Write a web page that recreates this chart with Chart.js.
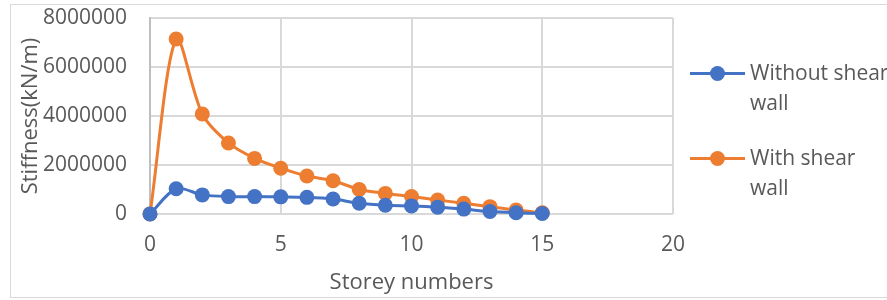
<!DOCTYPE html>
<html>
<head>
<meta charset="utf-8">
<script src="https://cdn.jsdelivr.net/npm/chart.js@4"></script>
<style>
  html, body { margin: 0; padding: 0; background: #fff; }
  #wrap { position: relative; width: 887px; height: 300px; overflow: hidden; font-family: 'Open Sans', sans-serif; }
  #frame { position: absolute; left: 10px; top: 4px; width: 900px; height: 294px; border: 1px solid #d9d9d9; box-sizing: border-box; }
  canvas { position: absolute; left: 0; top: 0; }
  #legend { position: absolute; left: 690px; top: 57px; color: #595959; font-size: 21px; line-height: 30px; white-space: nowrap; }
  .item { position: relative; padding-left: 60px; margin-bottom: 25px; }
  .item .ln { position: absolute; left: 0; top: 15px; width: 55px; height: 3px; }
  .item .dt { position: absolute; left: 20px; top: 9px; width: 15px; height: 15px; border-radius: 50%; }
</style>
</head>
<body>
<div id="wrap">
  <div id="frame"></div>
  <canvas id="chart" width="887" height="300"></canvas>
  <div id="legend"></div>
</div>
<script>
(function () {
  'use strict';

  var storeys = [0, 1, 2, 3, 4, 5, 6, 7, 8, 9, 10, 11, 12, 13, 14, 15];
  var withoutWall = [0, 1030000, 780000, 710000, 710000, 700000, 680000, 610000, 440000, 360000, 330000, 280000, 200000, 100000, 50000, 20000];
  var withWall = [0, 7140000, 4080000, 2900000, 2270000, 1870000, 1550000, 1360000, 1000000, 840000, 710000, 570000, 440000, 300000, 160000, 50000];
  var seriesNames = ['Without shear wall', 'With shear wall'];
  var xTicks = [0, 5, 10, 15, 20];
  var yTicks = [0, 2000000, 4000000, 6000000, 8000000];

  var blue = '#4472c4';
  var orange = '#ed7d31';
  var textGrey = '#595959';
  var gridGrey = '#d9d9d9';

  function points(ys) {
    return storeys.map(function (x, i) { return { x: x, y: ys[i] }; });
  }

  function series(label, ys, color) {
    return {
      label: label,
      data: points(ys),
      showLine: true,
      clip: false,
      borderColor: color,
      backgroundColor: color,
      borderWidth: 3,
      pointRadius: 7.5,
      pointBorderWidth: 0,
      tension: 0.3
    };
  }

  var tickFont = { family: "'Open Sans', sans-serif", size: 21 };
  var titleFont = { family: "'Open Sans', sans-serif", size: 22 };

  new Chart(document.getElementById('chart'), {
    type: 'scatter',
    data: {
      datasets: [
        series(seriesNames[0], withoutWall, blue),
        series(seriesNames[1], withWall, orange)
      ]
    },
    options: {
      responsive: false,
      animation: false,
      layout: { padding: { left: 18, right: 214, top: 18, bottom: 0 } },
      plugins: { legend: { display: false }, tooltip: { enabled: false } },
      scales: {
        x: {
          type: 'linear',
          min: 0,
          max: 20,
          afterBuildTicks: function (s) { s.ticks = xTicks.map(function (v) { return { value: v }; }); },
          afterFit: function (s) { s.height = 86; s.paddingLeft = 0; s.paddingRight = 0; },
          ticks: { color: textGrey, font: tickFont, padding: 18 },
          grid: { color: gridGrey, lineWidth: 2, drawTicks: false },
          border: { display: false },
          title: { display: true, text: 'Storey numbers', color: textGrey, font: titleFont, padding: { top: 2 } }
        },
        y: {
          min: 0,
          max: 8000000,
          afterBuildTicks: function (s) { s.ticks = yTicks.map(function (v) { return { value: v }; }); },
          afterFit: function (s) { s.width = 132; s.paddingTop = 0; s.paddingBottom = 0; },
          ticks: { color: textGrey, font: tickFont, padding: 23, callback: function (v) { return String(v); } },
          grid: { color: gridGrey, lineWidth: 2, drawTicks: false },
          border: { color: '#bfbfbf', width: 2 },
          title: { display: true, text: 'Stiffness(kN/m)', color: textGrey, font: titleFont, padding: 0 }
        }
      }
    }
  });

  var legend = document.getElementById('legend');
  [[seriesNames[0], blue], [seriesNames[1], orange]].forEach(function (s) {
    var words = s[0].split(' ');
    var last = words.pop();
    var item = document.createElement('div');
    item.className = 'item';
    item.innerHTML = '<span class="ln" style="background:' + s[1] + '"></span>' +
      '<span class="dt" style="background:' + s[1] + '"></span>' +
      words.join(' ') + '<br>' + last;
    legend.appendChild(item);
  });
})();
</script>
</body>
</html>
